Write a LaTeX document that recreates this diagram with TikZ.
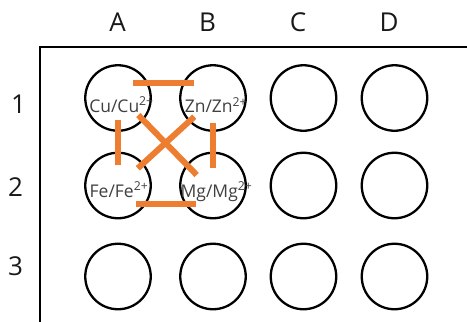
\documentclass[tikz,border=0pt]{standalone}
\usepackage{fontspec}
\setmainfont{Open Sans}
\definecolor{orng}{HTML}{ED7D31}
\definecolor{txt}{HTML}{404040}
\begin{document}
\begin{tikzpicture}[x=1pt,y=-1pt,
  well/.style={draw=black, line width=2.3pt, circle, minimum size=65.5pt, inner sep=0pt},
  hdr/.style={font=\fontsize{26}{30}\selectfont, text=black!90, inner sep=0pt, anchor=base},
  ion/.style={font=\fontsize{17.5}{20}\selectfont, text=txt, inner sep=0pt, anchor=base},
  bridge/.style={draw=orng, line width=6pt},
  frameline/.style={draw=black, line width=2pt}]
\useasboundingbox (0,0) rectangle (467,322);
% frame
\coordinate (fBL) at (39.5,340);
\coordinate (fTL) at (39.5,46.5);
\coordinate (fTR) at (490,46.5);
\draw[frameline] (fBL) -- (fTL) -- (fTR);
% column headers
\node[hdr] (hA) at (117.5,31.7) {A};
\node[hdr] (hB) at (207.5,31.7) {B};
\node[hdr] (hC) at (298,31.7) {C};
\node[hdr] (hD) at (389,31.7) {D};
% row headers
\node[hdr] (r1) at (18.5,113.3) {1};
\node[hdr] (r2) at (15.5,196) {2};
\node[hdr] (r3) at (15.5,275) {3};
% wells
\node[well] (A1) at (118,98) {};
\node[well] (B1) at (213,98) {};
\node[well] (C1) at (303.5,98) {};
\node[well] (D1) at (394.5,98) {};
\node[well] (A2) at (118,185.5) {};
\node[well] (B2) at (213,185.5) {};
\node[well] (C2) at (303.5,185.5) {};
\node[well] (D2) at (394.5,185.5) {};
\node[well] (A3) at (118,276.5) {};
\node[well] (B3) at (213,276.5) {};
\node[well] (C3) at (303.5,276.5) {};
\node[well] (D3) at (394.5,276.5) {};
% ion labels
\node[ion] (tCu) at (121.5,112) {Cu/Cu\textsuperscript{2+}};
\node[ion] (tZn) at (216,112.5) {Zn/Zn\textsuperscript{2+}};
\node[ion] (tFe) at (119,197) {Fe/Fe\textsuperscript{2+}};
\node[ion] (tMg) at (216.5,197) {Mg/Mg\textsuperscript{2+}};
% salt bridge ends
\coordinate (bT1) at (133,83.3);   \coordinate (bT2) at (194,83.3);
\coordinate (bB1) at (136,204);    \coordinate (bB2) at (196,204);
\coordinate (bL1) at (117.7,119.5);\coordinate (bL2) at (117.7,165);
\coordinate (bR1) at (212.5,122.7);\coordinate (bR2) at (212.5,168.2);
\coordinate (bD1) at (138.3,115);  \coordinate (bD2) at (196.7,175);
\coordinate (bE1) at (194.3,116.7);\coordinate (bE2) at (137.8,168.3);
\draw[bridge] (bT1) -- (bT2);
\draw[bridge] (bB1) -- (bB2);
\draw[bridge] (bL1) -- (bL2);
\draw[bridge] (bR1) -- (bR2);
\draw[bridge] (bD1) -- (bD2);
\draw[bridge] (bE1) -- (bE2);
\end{tikzpicture}
\end{document}
